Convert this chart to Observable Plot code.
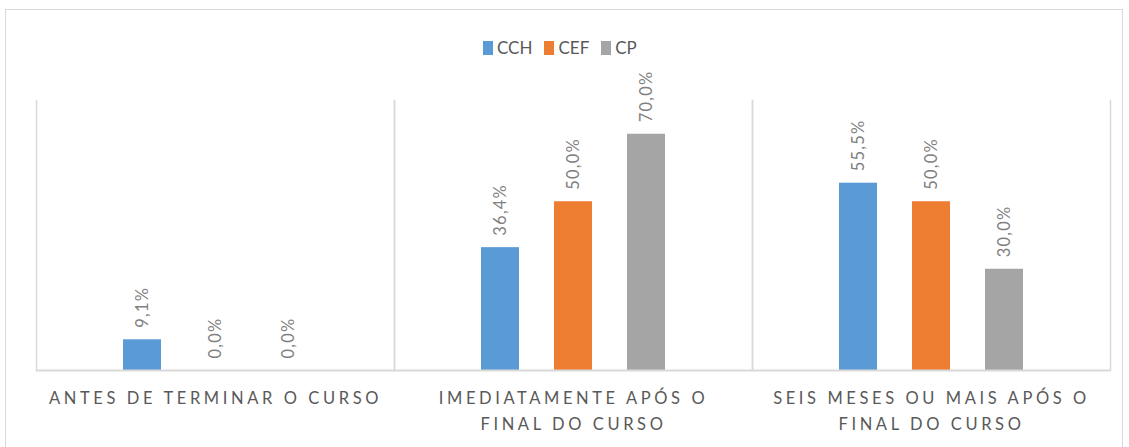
<!DOCTYPE html>
<html>
<head>
<meta charset="utf-8">
<script src="https://cdn.jsdelivr.net/npm/d3@7"></script>
<script src="https://cdn.jsdelivr.net/npm/@observablehq/plot@0.6"></script>
<style>
  html, body { margin: 0; padding: 0; background: #fff; }
  body { width: 1129px; height: 447px; position: relative; overflow: hidden; font-family: Lato, "Noto Sans", sans-serif; }
  #border { position: absolute; left: 5px; top: 9px; width: 1118px; height: 450px; border: 1px solid #d9d9d9; box-sizing: border-box; }
  #chart { position: absolute; left: 0; top: 0; }
  #legend { position: absolute; left: 483px; top: 37px; display: flex; align-items: center; font-size: 17px; color: #595959; }
  #legend .item { display: flex; align-items: center; margin-right: 12px; }
  #legend .sw { width: 10px; height: 14px; margin-right: 4px; }
  svg g[aria-label^="fx-axis"] text { letter-spacing: 3.6px; }
  svg g[aria-label="text"] text { letter-spacing: 1.2px; }
</style>
</head>
<body>
<div id="border"></div>
<div id="chart"></div>
<div id="legend"></div>
<script>
const categories = ["ANTES DE TERMINAR O CURSO", "IMEDIATAMENTE APÓS O FINAL DO CURSO", "SEIS MESES OU MAIS APÓS O FINAL DO CURSO"];
const tickLabels = ["ANTES DE TERMINAR O CURSO", "IMEDIATAMENTE APÓS O\nFINAL DO CURSO", "SEIS MESES OU MAIS APÓS O\nFINAL DO CURSO"];
const series = ["CCH", "CEF", "CP"];
const colors = ["#5b9bd5", "#ed7d31", "#a5a5a5"];
const valuesCCH = [9.1, 36.4, 55.5];
const valuesCEF = [0.0, 50.0, 50.0];
const valuesCP = [0.0, 70.0, 30.0];

const valuesBySeries = [valuesCCH, valuesCEF, valuesCP];
const data = [];
categories.forEach((c, i) => {
  series.forEach((s, j) => {
    data.push({category: c, series: s, value: valuesBySeries[j][i]});
  });
});

const fmt = v => v.toFixed(1).replace(".", ",") + "%";

const plot = Plot.plot({
  width: 1129,
  height: 447,
  marginTop: 100,
  marginBottom: 77,
  marginLeft: 35,
  marginRight: 19,
  style: {fontFamily: "Lato, 'Noto Sans', sans-serif", background: "transparent"},
  fx: {domain: categories, padding: 0, axis: null},
  x: {domain: series, paddingInner: 0.48, paddingOuter: 1.19, axis: null},
  y: {domain: [0, 80], axis: null},
  color: {domain: series, range: colors},
  marks: [
    Plot.frame({anchor: "left", stroke: "#d9d9d9", strokeWidth: 1.5}),
    Plot.frame({anchor: "right", stroke: "#d9d9d9", strokeWidth: 1.5}),
    Plot.barY(data, {fx: "category", x: "series", y: "value", fill: "series"}),
    Plot.ruleY([0], {stroke: "#d9d9d9", strokeWidth: 2}),
    Plot.text(data, {fx: "category", x: "series", y: "value", text: d => fmt(d.value), rotate: -90, textAnchor: "start", dy: -12, fill: "#7f7f7f", fontSize: 16.5}),
    Plot.axisFx({anchor: "bottom", domain: categories, tickFormat: (d) => tickLabels[categories.indexOf(d)], tickSize: 0, tickPadding: 15, fontSize: 16.5, lineHeight: 1.58, fill: "#595959", label: null})
  ]
});
document.getElementById("chart").appendChild(plot);

const legend = document.getElementById("legend");
series.forEach((s, j) => {
  const item = document.createElement("div");
  item.className = "item";
  const sw = document.createElement("span");
  sw.className = "sw";
  sw.style.background = colors[j];
  const lab = document.createElement("span");
  lab.textContent = s;
  item.appendChild(sw);
  item.appendChild(lab);
  legend.appendChild(item);
});
</script>
</body>
</html>
